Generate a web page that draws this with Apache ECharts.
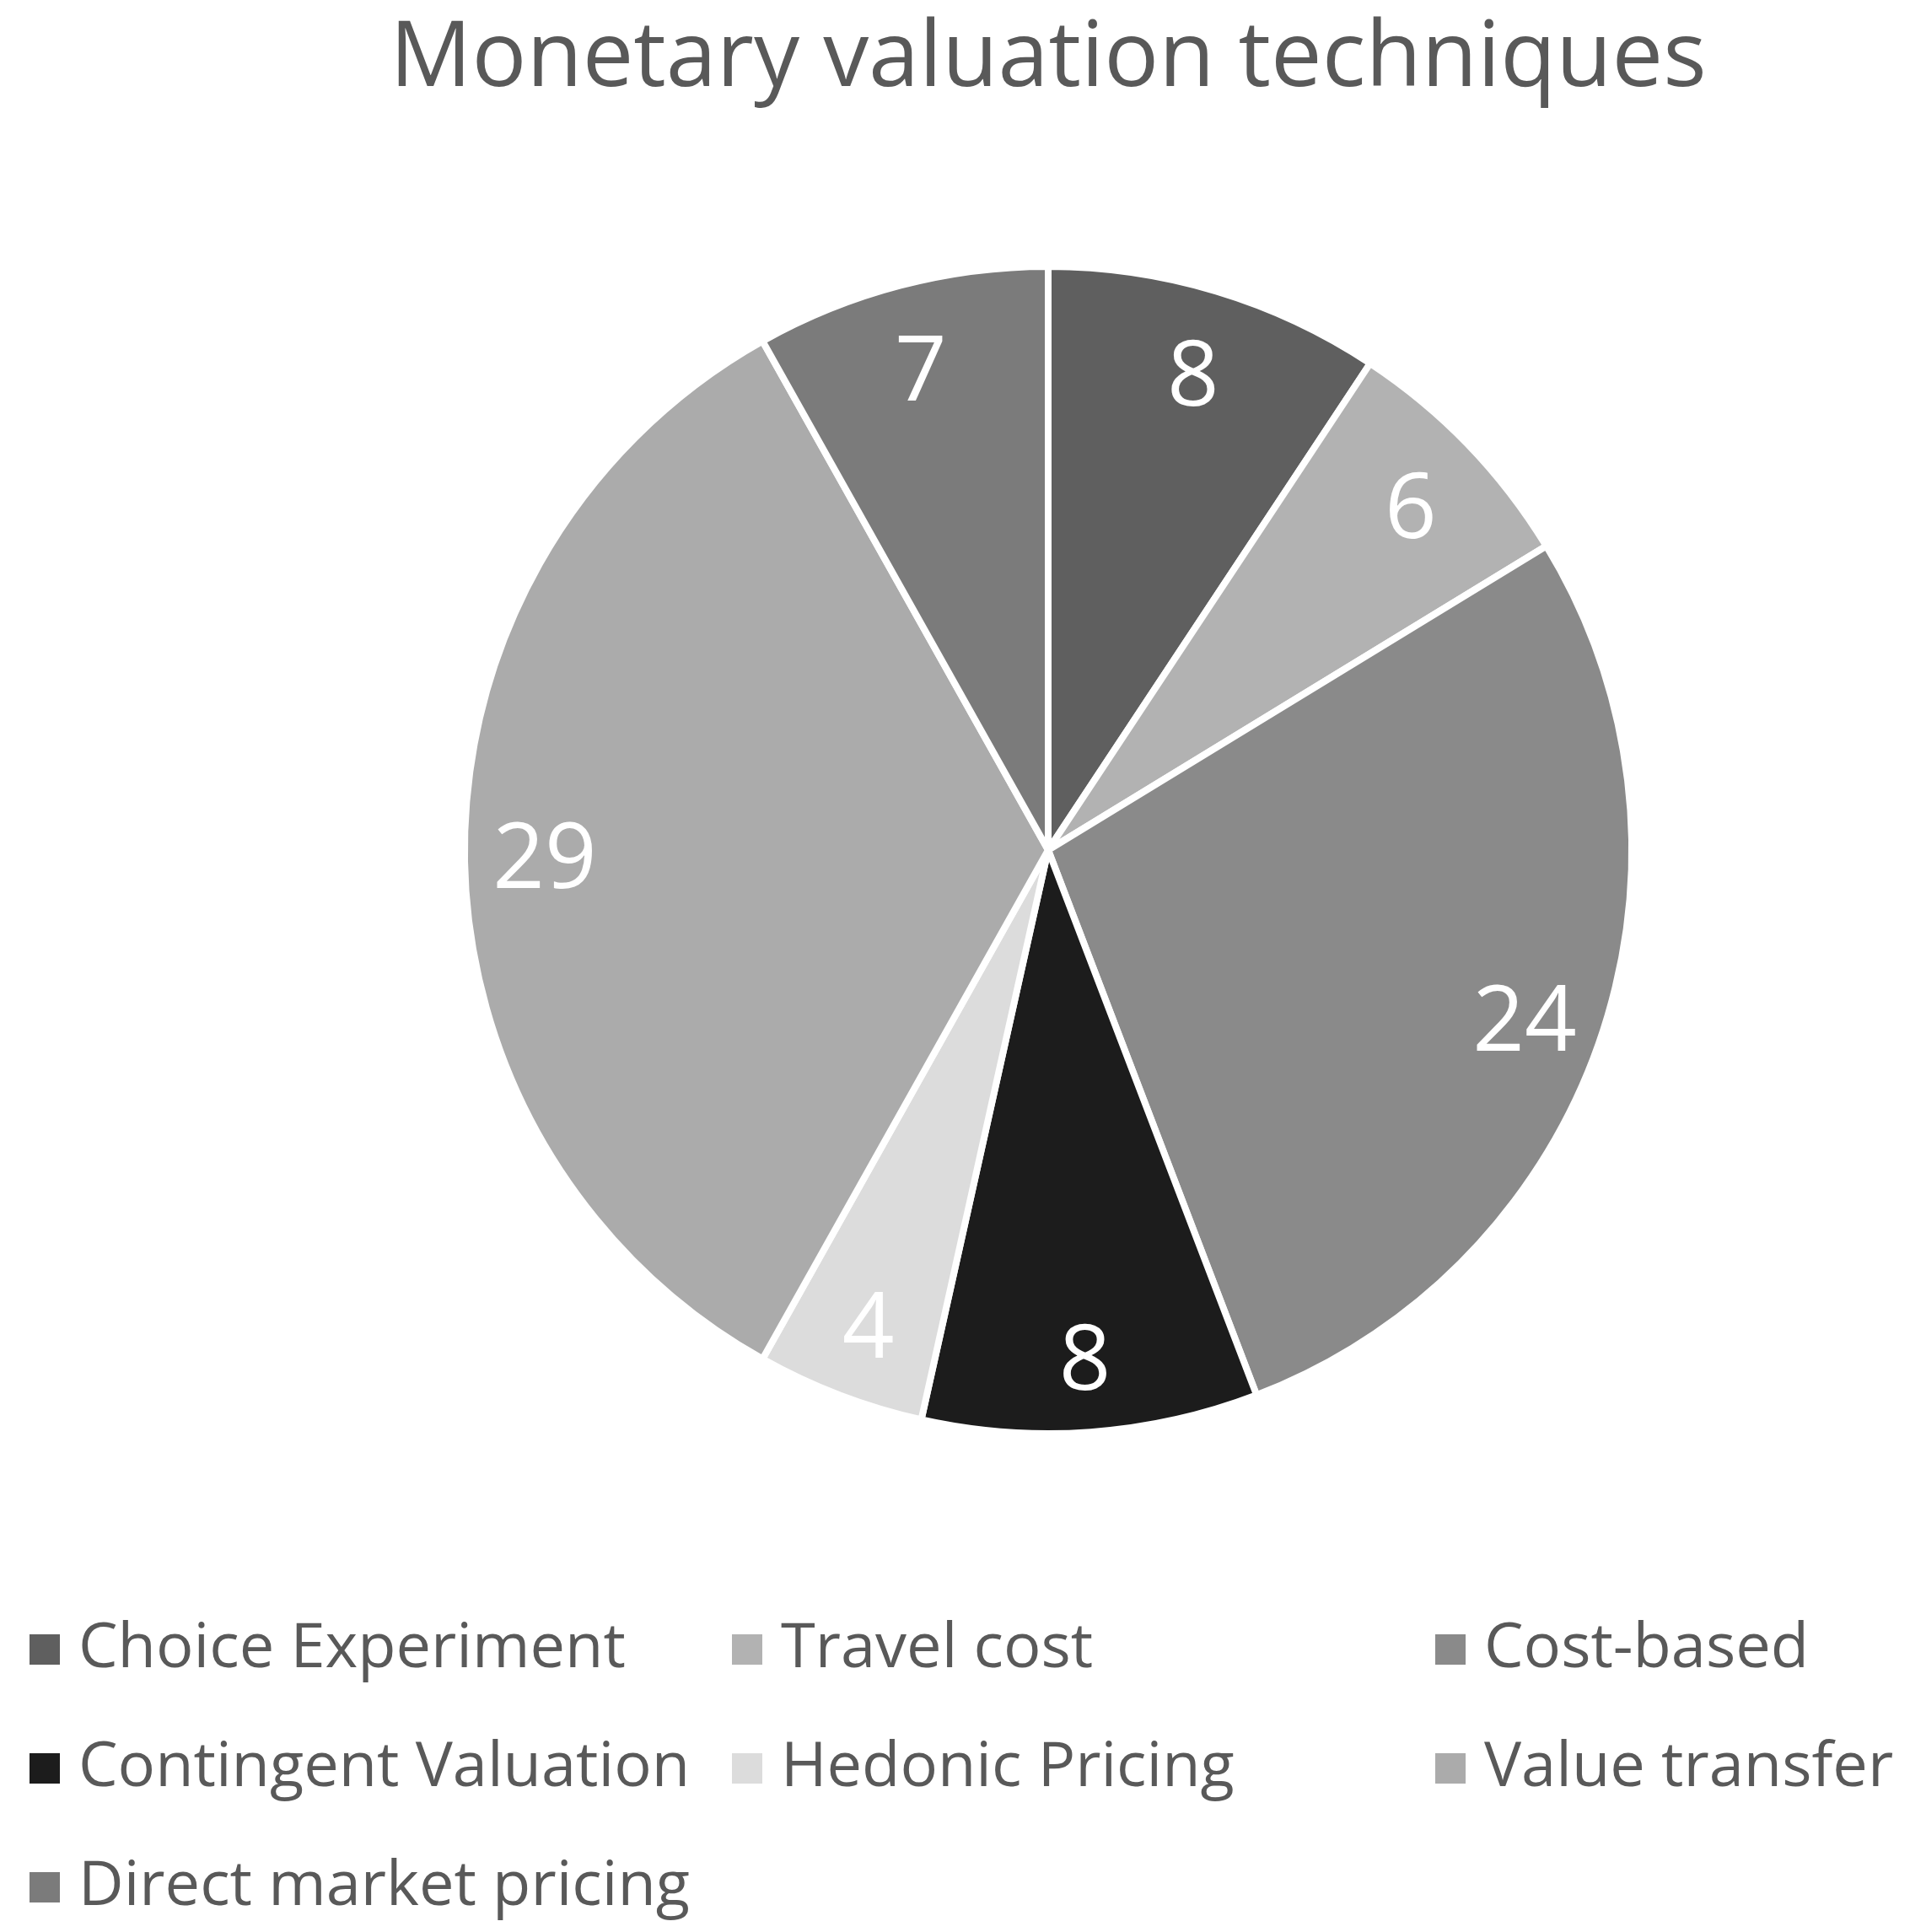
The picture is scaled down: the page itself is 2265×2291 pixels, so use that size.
<!DOCTYPE html>
<html>
<head>
<meta charset="utf-8">
<script src="https://cdn.jsdelivr.net/npm/echarts@6/dist/echarts.min.js"></script>
<style>
html,body{margin:0;padding:0;background:#fff;}
#chart{width:2265px;height:2291px;}
</style>
</head>
<body>
<div id="chart"></div>
<script>
const titleText = "Monetary valuation techniques";
const categories = ["Choice Experiment","Travel cost","Cost-based","Contingent Valuation","Hedonic Pricing","Value transfer","Direct market pricing"];
const values = [8, 6, 24, 8, 4, 29, 7];
const colors = ["#5f5f5f","#b2b2b2","#8a8a8a","#1c1c1c","#dcdcdc","#ababab","#7b7b7b"];
const legendCol1 = ["Choice Experiment","Contingent Valuation","Direct market pricing"];
const legendCol2 = ["Travel cost","Hedonic Pricing"];
const legendCol3 = ["Cost-based","Value transfer"];

const pieData = categories.map((c,i)=>({name:c, value:values[i], itemStyle:{color:colors[i]}}));
const labelData = categories.map((c,i)=>({name:c, value:values[i]}));

const font = "'Open Sans', sans-serif";
const legendBase = {
  orient:'vertical', top:1911, itemWidth:38, itemHeight:38, itemGap:61,
  icon:'rect',
  textStyle:{color:'#595959', fontSize:74, fontFamily:font, lineHeight:80, padding:[0,0,0,16]}
};

const chart = echarts.init(document.getElementById('chart'), null, {renderer:'canvas'});
chart.setOption({
  backgroundColor:'#ffffff',
  animation:false,
  color: colors,
  title:{text:titleText, left:1238, textAlign:'center', top:12,
    textStyle:{color:'#595959', fontSize:108, fontWeight:'normal', fontFamily:font}},
  legend:[
    Object.assign({}, legendBase, {left:28, data:legendCol1}),
    Object.assign({}, legendBase, {left:861, data:legendCol2}),
    Object.assign({}, legendBase, {left:1695, data:legendCol3})
  ],
  series:[
    {
      type:'pie', center:[1243,1008], radius:[0,692], startAngle:90, clockwise:true,
      data:pieData, silent:true,
      itemStyle:{borderColor:'#ffffff', borderWidth:8},
      label:{show:false}, labelLine:{show:false}
    },
    {
      type:'pie', center:[1243,1022], radius:[496,692], startAngle:90, clockwise:true,
      data:labelData, silent:true, legendHoverLink:false,
      itemStyle:{color:'rgba(0,0,0,0)', borderWidth:0},
      label:{show:true, position:'inside', color:'#ffffff', fontSize:108, fontFamily:font,
        formatter:'{c}'},
      labelLine:{show:false}
    }
  ]
});
</script>
</body>
</html>
